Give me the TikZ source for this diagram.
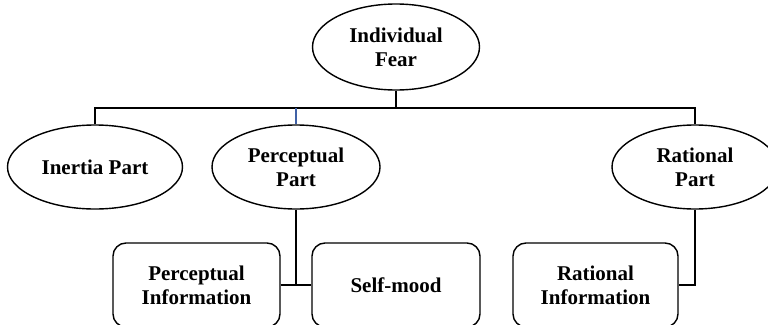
\documentclass[tikz,border=0pt]{standalone}
\usepackage{fontspec}
\setmainfont{Liberation Serif}
\usetikzlibrary{shapes.geometric}
\definecolor{linkblue}{rgb}{0.25,0.38,0.65}
\begin{document}
\begin{tikzpicture}[x=1pt,y=-1pt,
  every node/.style={font=\fontsize{21}{24}\selectfont\bfseries, align=center, line width=1.4pt, inner sep=0pt},
  oval/.style={draw, ellipse, minimum width=#1, minimum height=84pt},
  infobox/.style={draw, rounded corners=13pt, minimum width=#1, minimum height=84pt},
  conn/.style={line width=1.6pt}]
\useasboundingbox (0,0) rectangle (768,324);
\clip (0,0) rectangle (768,324);
\node[oval=167pt, minimum height=86pt] (fear) at (396,47) {Individual\\Fear};
\node[oval=175pt] (inertia) at (95,167) {Inertia Part};
\node[oval=168pt] (perc) at (296,167) {Perceptual\\Part};
\node[oval=166pt] (rat) at (695,167) {Rational\\Part};
\node[infobox=167pt] (pinfo) at (196.5,285) {Perceptual\\Information};
\node[infobox=168pt] (self) at (396,285) {Self-mood};
\node[infobox=165pt] (rinfo) at (595.5,285) {Rational\\Information};
\coordinate (barL) at (95,108);
\coordinate (barR) at (695,108);
\draw[conn] (inertia.north) -- (barL) -- (barR) -- (rat.north);
\draw[conn] (fear.south) -- (fear.south |- barL);
\draw[conn, linkblue] (perc.north) -- (perc.north |- barL);
\draw[conn] (perc.south) -- (perc.south |- pinfo.east);
\draw[conn] (pinfo.east) -- (self.west);
\draw[conn] (rat.south) |- (rinfo.east);
\end{tikzpicture}
\end{document}
